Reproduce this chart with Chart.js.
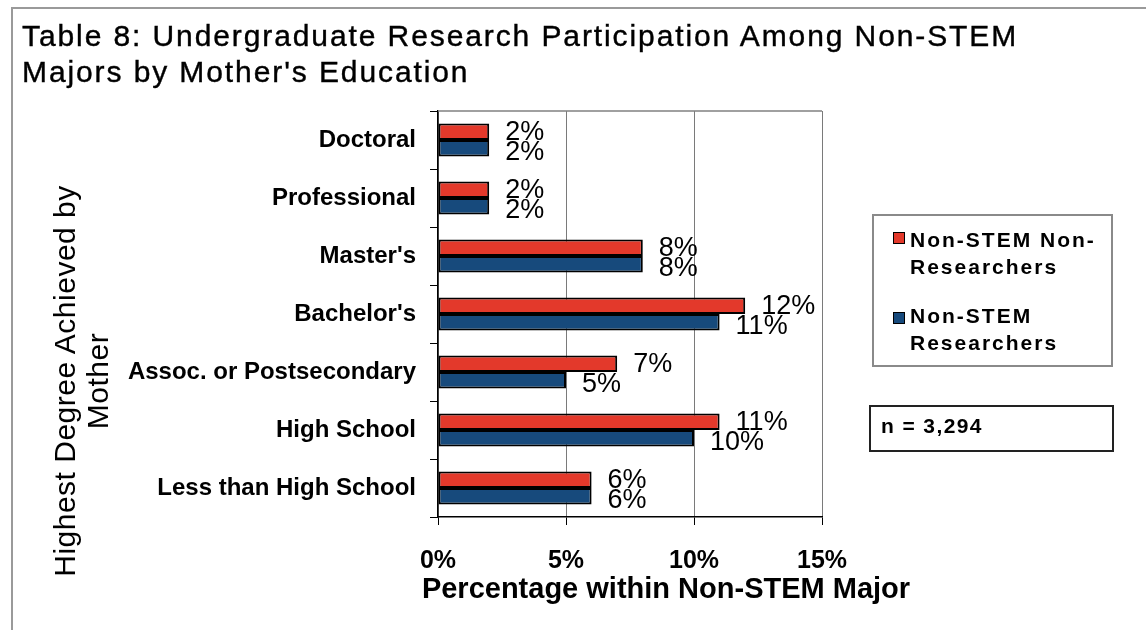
<!DOCTYPE html>
<html>
<head>
<meta charset="utf-8">
<script src="https://cdn.jsdelivr.net/npm/chart.js@4"></script>
<style>
  html, body { margin: 0; padding: 0; background: #fff; }
  body { width: 1146px; height: 630px; position: relative; overflow: hidden; font-family: "Liberation Sans", Arial, sans-serif; }
  #frame { position: absolute; left: 11px; top: 7px; width: 1200px; height: 700px; border-top: 2px solid #9a9a9a; border-left: 2px solid #9a9a9a; }
  #c { position: absolute; left: 0; top: 0; }
  #title { position: absolute; left: 22px; top: 18px; font-size: 30px; line-height: 36px; letter-spacing: 1.9px; color: #000; white-space: nowrap; -webkit-text-stroke: 0.4px #000; }
  #ytitle { position: absolute; left: -169px; top: 348px; width: 500px; height: 66px; font-size: 30px; line-height: 33px; letter-spacing: 0.5px; text-align: center; transform: rotate(-90deg); transform-origin: 50% 50%; white-space: nowrap; }
  #xtitle { position: absolute; left: 366px; top: 572px; width: 600px; font-size: 29px; line-height: 32px; font-weight: bold; text-align: center; white-space: nowrap; }
  #legend { position: absolute; left: 872px; top: 214px; width: 237px; height: 149px; border: 2px solid #8a8a8a; }
  .sw { position: absolute; width: 10px; height: 10px; border: 1px solid #000; }
  .lt { position: absolute; font-size: 21px; line-height: 27px; font-weight: bold; letter-spacing: 2px; white-space: nowrap; }
  #nbox { position: absolute; left: 869px; top: 405px; width: 241px; height: 43px; border: 2px solid #222; }
  #ntext { position: absolute; left: 881px; top: 412px; font-size: 21px; line-height: 27px; font-weight: bold; letter-spacing: 1.4px; white-space: nowrap; }
</style>
</head>
<body>
<div id="frame"></div>
<canvas id="c" width="1146" height="630"></canvas>
<div id="title">Table 8: Undergraduate Research Participation Among Non-STEM<br>Majors by Mother's Education</div>
<div id="ytitle">Highest Degree Achieved by<br>Mother</div>
<div id="xtitle">Percentage within Non-STEM Major</div>
<div id="legend"></div>
<div class="sw" style="left:893px;top:232px;background:#E3392B;"></div>
<div class="lt" style="left:910px;top:226px;">Non-STEM Non-<br>Researchers</div>
<div class="sw" style="left:893px;top:312px;background:#174A7C;"></div>
<div class="lt" style="left:910px;top:302px;">Non-STEM<br>Researchers</div>
<div id="nbox"></div>
<div id="ntext">n = 3,294</div>
<script>
const categories = ["Doctoral", "Professional", "Master's", "Bachelor's", "Assoc. or Postsecondary", "High School", "Less than High School"];
const nonResearchers = [2, 2, 8, 12, 7, 11, 6];
const researchers = [2, 2, 8, 11, 5, 10, 6];
const xTicks = [0, 5, 10, 15];
const seriesNames = ["Non-STEM Non-Researchers", "Non-STEM Researchers"];

Chart.defaults.font.family = '"Liberation Sans", Arial, sans-serif';
Chart.defaults.color = '#000';

const valueLabels = {
  id: 'valueLabels',
  afterDatasetsDraw(chart) {
    const ctx = chart.ctx;
    ctx.save();
    ctx.font = '27px "Liberation Sans", Arial, sans-serif';
    ctx.fillStyle = '#000';
    ctx.textAlign = 'left';
    ctx.textBaseline = 'middle';
    chart.data.datasets.forEach((ds, di) => {
      const meta = chart.getDatasetMeta(di);
      meta.data.forEach((el, i) => {
        ctx.fillText(ds.data[i] + '%', el.x + 16, el.y + (di === 0 ? 1 : 4));
      });
    });
    ctx.restore();
  }
};

const topBorder = {
  id: 'topBorder',
  afterDraw(chart) {
    const a = chart.chartArea, ctx = chart.ctx;
    ctx.save();
    ctx.strokeStyle = '#808080';
    ctx.lineWidth = 1.5;
    ctx.beginPath();
    ctx.moveTo(a.left, a.top);
    ctx.lineTo(a.right, a.top);
    ctx.stroke();
    ctx.restore();
  }
};

new Chart(document.getElementById('c'), {
  type: 'bar',
  data: {
    labels: categories,
    datasets: [
      { label: seriesNames[0], data: nonResearchers, backgroundColor: '#E3392B', borderColor: '#000', borderWidth: 2, borderSkipped: false },
      { label: seriesNames[1], data: researchers, backgroundColor: '#174A7C', borderColor: '#000', borderWidth: 2, borderSkipped: false }
    ]
  },
  options: {
    indexAxis: 'y',
    responsive: false,
    animation: false,
    categoryPercentage: 0.57,
    barPercentage: 1.0,
    layout: { padding: { left: 0, top: 111, right: 324, bottom: 0 } },
    plugins: { legend: { display: false }, tooltip: { enabled: false }, title: { display: false } },
    scales: {
      y: {
        type: 'category',
        afterFit(s) { s.width = 438; },
        grid: { display: true, drawOnChartArea: false, drawTicks: true, tickLength: 8, tickColor: '#000', offset: true },
        border: { display: true, color: '#000', width: 1.5 },
        ticks: { font: { size: 24, weight: 'bold' }, padding: 14, color: '#000' }
      },
      x: {
        type: 'linear',
        min: 0,
        max: 15,
        afterFit(s) { s.height = 113; },
        afterBuildTicks(s) { s.ticks = xTicks.map(v => ({ value: v })); },
        grid: { color: '#7a7a7a', lineWidth: 1, tickColor: '#000', tickLength: 8, drawOnChartArea: true },
        border: { display: true, color: '#000', width: 1.5 },
        ticks: { font: { size: 25, weight: 'bold' }, padding: 21, color: '#000', callback: v => v + '%' }
      }
    }
  },
  plugins: [valueLabels, topBorder]
});
</script>
</body>
</html>
